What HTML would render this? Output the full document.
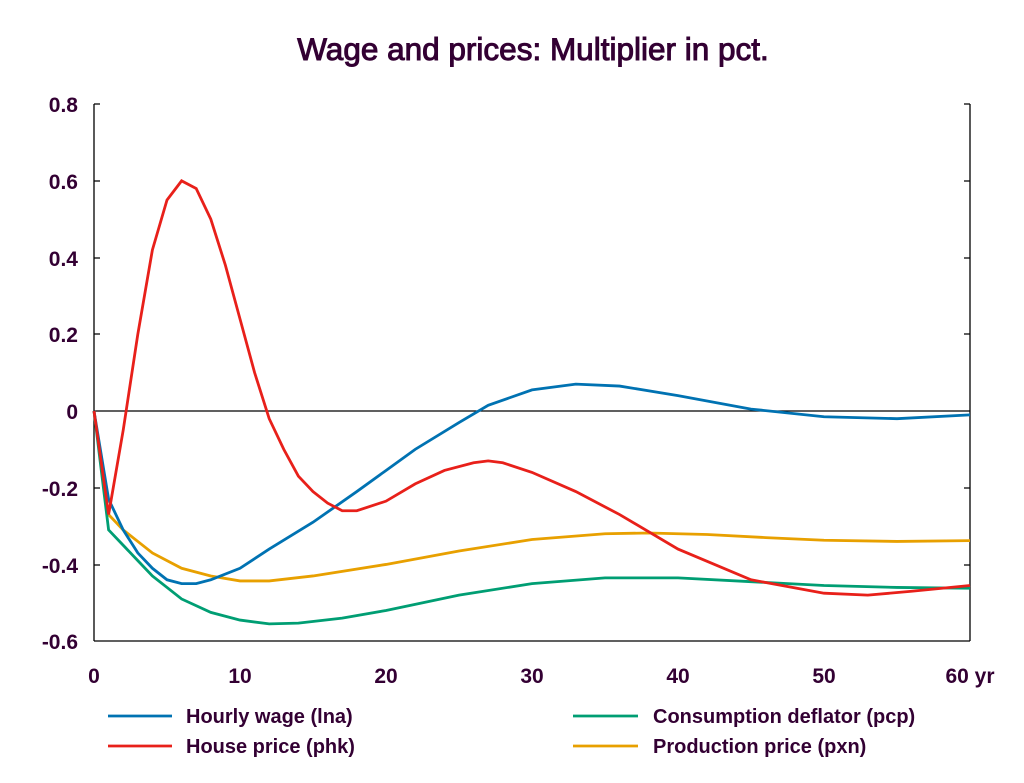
<!DOCTYPE html>
<html><head><meta charset="utf-8"><style>
html,body{margin:0;padding:0;background:#fff;}
svg text{font-family:"Liberation Sans",Arial,sans-serif;fill:#330033;}
</style></head><body>
<svg width="1024" height="778" xmlns="http://www.w3.org/2000/svg">
<rect width="1024" height="778" fill="#fff"/>
<text x="533" y="60" font-size="31.5" text-anchor="middle" stroke="#330033" stroke-width="1">Wage and prices: Multiplier in pct.</text>
<g stroke="#000" stroke-width="1.3" fill="none">
<line x1="94" y1="104" x2="94" y2="641"/>
<line x1="970" y1="104" x2="970" y2="641"/>
<line x1="94" y1="641" x2="970" y2="641"/>
<line x1="94" y1="411" x2="970" y2="411"/>
<path d="M94 104h6M94 181h6M94 258h6M94 334h6M94 488h6M94 565h6M970 104h-6M970 181h-6M970 258h-6M970 334h-6M970 488h-6M970 565h-6"/>
</g>
<g font-size="21" font-weight="bold" text-anchor="end">
<text x="78" y="112">0.8</text><text x="78" y="189">0.6</text><text x="78" y="266">0.4</text><text x="78" y="342">0.2</text><text x="78" y="419">0</text><text x="78" y="496">-0.2</text><text x="78" y="573">-0.4</text><text x="78" y="649">-0.6</text>
</g>
<g font-size="21" font-weight="bold" text-anchor="middle">
<text x="94" y="683">0</text><text x="240" y="683">10</text><text x="386" y="683">20</text><text x="532" y="683">30</text><text x="678" y="683">40</text><text x="824" y="683">50</text><text x="970" y="683">60 yr</text>
</g>
<g transform="translate(94,411) scale(14.6,-383.6)" fill="none" stroke-width="2.8">
<polyline vector-effect="non-scaling-stroke" stroke="#e8a000" points="0,0 1,-0.27 2,-0.31 3,-0.34 4,-0.37 5,-0.39 6,-0.41 8,-0.43 10,-0.443 12,-0.443 15,-0.43 20,-0.4 25,-0.365 30,-0.335 35,-0.32 38,-0.318 42,-0.322 46,-0.33 50,-0.337 55,-0.34 60,-0.338"/>
<polyline vector-effect="non-scaling-stroke" stroke="#009e73" points="0,0 1,-0.31 2,-0.35 3,-0.39 4,-0.43 5,-0.46 6,-0.49 8,-0.525 10,-0.545 12,-0.555 14,-0.553 17,-0.54 20,-0.52 25,-0.48 30,-0.45 35,-0.435 40,-0.435 45,-0.445 50,-0.455 55,-0.46 60,-0.462"/>
<polyline vector-effect="non-scaling-stroke" stroke="#0072b2" points="0,0 1,-0.23 2,-0.31 3,-0.37 4,-0.41 5,-0.44 6,-0.45 7,-0.45 8,-0.44 10,-0.41 12,-0.36 15,-0.29 18,-0.21 20,-0.155 22,-0.1 25,-0.03 27,0.015 30,0.055 33,0.07 36,0.065 40,0.04 45,0.005 50,-0.015 55,-0.02 60,-0.01"/>
<polyline vector-effect="non-scaling-stroke" stroke="#e8201a" points="0,0 1,-0.27 2,-0.05 3,0.2 4,0.42 5,0.55 6,0.6 7,0.58 8,0.5 9,0.38 10,0.24 11,0.1 12,-0.02 13,-0.1 14,-0.17 15,-0.21 16,-0.24 17,-0.26 18,-0.26 20,-0.235 22,-0.19 24,-0.155 26,-0.135 27,-0.13 28,-0.135 30,-0.16 33,-0.21 36,-0.27 40,-0.36 45,-0.44 50,-0.475 53,-0.48 56,-0.47 60,-0.455"/>
</g>
<g stroke-width="2.8">
<line x1="108" y1="716" x2="172" y2="716" stroke="#0072b2"/>
<line x1="108" y1="746" x2="172" y2="746" stroke="#e8201a"/>
<line x1="573" y1="716" x2="638" y2="716" stroke="#009e73"/>
<line x1="573" y1="746" x2="638" y2="746" stroke="#e8a000"/>
</g>
<g font-size="20" font-weight="bold">
<text x="186" y="723">Hourly wage (lna)</text>
<text x="186" y="753">House price (phk)</text>
<text x="653" y="723">Consumption deflator (pcp)</text>
<text x="653" y="753">Production price (pxn)</text>
</g>
</svg>
</body></html>
